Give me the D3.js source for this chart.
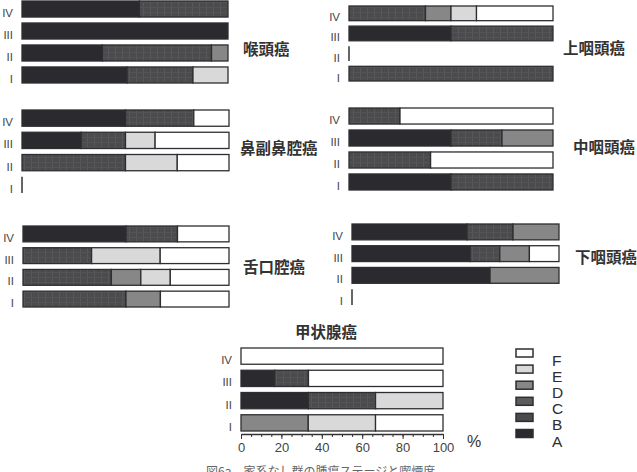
<!DOCTYPE html>
<html>
<head>
<meta charset="utf-8">
<script src="https://cdn.jsdelivr.net/npm/d3@7"></script>
<style>
  html, body { margin: 0; padding: 0; background: #fff; }
  svg { display: block; }
  .stage { font-family: "Liberation Sans Narrow", "Liberation Sans", sans-serif; font-size: 11.5px; fill: #444; }
  .title { font-family: "Noto Sans CJK JP", sans-serif; font-weight: 700; font-size: 15.5px; fill: #333; }
  .tick text { font-family: "Liberation Sans", sans-serif; font-size: 13px; fill: #444; }
</style>
</head>
<body>
<svg id="chart" width="637" height="472"></svg>
<script>
// categories and stages
const categories = ["A", "B", "C", "D", "E", "F"];
const stages = ["IV", "III", "II", "I"];
const catColors = ["#2a2a2f", "#4b4b4e", "#5c5c5f", "#878787", "#d9d9d9", "#ffffff"];

// percentages per stage (IV, III, II, I), order A..F
const larynx = [
    [57, 43, 0, 0, 0, 0],
    [100, 0, 0, 0, 0, 0],
    [39, 53, 0, 8, 0, 0],
    [51, 32, 0, 0, 17, 0]
];
const nasopharynx = [
    [0, 37.5, 0, 12.5, 12.5, 37.5],
    [50, 50, 0, 0, 0, 0],
    [0, 0, 0, 0, 0, 0],
    [0, 100, 0, 0, 0, 0]
];
const sinonasal = [
    [50, 33, 0, 0, 0, 17],
    [28.6, 21.4, 0, 0, 14.3, 35.7],
    [0, 50, 0, 0, 25, 25],
    [0, 0, 0, 0, 0, 0]
];
const oropharynx = [
    [0, 25, 0, 0, 0, 75],
    [50, 25, 0, 25, 0, 0],
    [0, 40, 0, 0, 0, 60],
    [50, 50, 0, 0, 0, 0]
];
const oralTongue = [
    [50, 25, 0, 0, 0, 25],
    [0, 33.3, 0, 0, 33.3, 33.4],
    [0, 42.9, 0, 14.3, 14.3, 28.5],
    [0, 50, 0, 16.7, 0, 33.3]
];
const hypopharynx = [
    [55.6, 22.2, 0, 22.2, 0, 0],
    [57.1, 14.3, 0, 14.3, 0, 14.3],
    [66.7, 0, 0, 33.3, 0, 0],
    [0, 0, 0, 0, 0, 0]
];
const thyroid = [
    [0, 0, 0, 0, 0, 100],
    [16.7, 16.7, 0, 0, 0, 66.6],
    [33.3, 33.3, 0, 0, 33.4, 0],
    [0, 0, 0, 33.3, 33.3, 33.4]
];
const axisTicks = [0, 20, 40, 60, 80, 100];

const panels = [
    { name: "喉頭癌", data: larynx, x: [22, 228], y: [1, 83], tx: 243, ty: 55 },
    { name: "上咽頭癌", data: nasopharynx, x: [349, 553], y: [6, 81], tx: 563, ty: 54 },
    { name: "鼻副鼻腔癌", data: sinonasal, x: [22, 229], y: [110, 193], tx: 240, ty: 154 },
    { name: "中咽頭癌", data: oropharynx, x: [349, 553], y: [108, 190], tx: 573, ty: 153 },
    { name: "舌口腔癌", data: oralTongue, x: [23, 229], y: [226, 307], tx: 243, ty: 273 },
    { name: "下咽頭癌", data: hypopharynx, x: [352, 559], y: [224, 305], tx: 575, ty: 263 },
    { name: "甲状腺癌", data: thyroid, x: [241, 443], y: [348, 431], tx: 326, ty: 338, axis: true, centered: true }
];

const svg = d3.select("#chart");
const color = d3.scaleOrdinal().domain(categories).range(catColors);

// faint vertical texture for the B fill
const defs = svg.append("defs");
const pat = defs.append("pattern").attr("id", "texB")
    .attr("patternUnits", "userSpaceOnUse").attr("width", 7).attr("height", 5);
pat.append("rect").attr("width", 7).attr("height", 5).attr("fill", color("B"));
pat.append("rect").attr("x", 3).attr("width", 1).attr("height", 5).attr("fill", "#58585b");
pat.append("rect").attr("y", 2).attr("width", 7).attr("height", 1).attr("fill", "#535356");

function fillFor(cat) {
    return cat === "B" ? "url(#texB)" : color(cat);
}

function drawPanel(p) {
    const g = svg.append("g");
    const x = d3.scaleLinear().domain([0, 100]).range(p.x);
    const y = d3.scaleBand().domain(stages).range(p.y).paddingInner(0.27);

    stages.forEach((st, i) => {
        const vals = p.data[i];
        const total = d3.sum(vals);
        const row = g.append("g");
        if (total === 0) {
            row.append("line")
                .attr("x1", x(0)).attr("x2", x(0))
                .attr("y1", y(st)).attr("y2", y(st) + y.bandwidth())
                .attr("stroke", "#333").attr("stroke-width", 1.5);
        } else {
            const stack = [];
            let acc = 0;
            vals.forEach((v, k) => {
                if (v > 0) stack.push({ cat: categories[k], x0: acc, x1: acc + v });
                acc += v;
            });
            row.selectAll("rect.seg").data(stack).join("rect")
                .attr("class", "seg")
                .attr("x", d => x(d.x0))
                .attr("y", y(st))
                .attr("width", d => x(d.x1) - x(d.x0))
                .attr("height", y.bandwidth())
                .attr("fill", d => fillFor(d.cat))
                .attr("stroke", "#2e2e32")
                .attr("stroke-width", 1.3);
        }
        g.append("text").attr("class", "stage")
            .attr("x", x(0) - 9)
            .attr("y", y(st) + y.bandwidth() / 2 + 8)
            .attr("text-anchor", "end")
            .text(st);
    });

    g.append("text").attr("class", "title")
        .attr("x", p.tx).attr("y", p.ty)
        .attr("text-anchor", p.centered ? "middle" : "start")
        .text(p.name);

    if (p.axis) {
        const ay = p.y[1] + 3;
        const minor = g.append("g").attr("transform", `translate(0,${ay})`)
            .call(d3.axisBottom(x).tickValues(d3.range(0, 101, 5)).tickSize(3).tickFormat(""));
        minor.select(".domain").remove();
        minor.selectAll(".tick line").attr("stroke", "#333");
        const major = g.append("g").attr("transform", `translate(0,${ay})`)
            .call(d3.axisBottom(x).tickValues(axisTicks).tickSize(5).tickSizeOuter(0).tickPadding(4));
        major.select(".domain").attr("stroke", "#333").attr("stroke-width", 1.3);
        major.selectAll(".tick line").attr("stroke", "#333");
        g.append("text").attr("x", 467).attr("y", 447)
            .style("font-family", "Liberation Sans, sans-serif").style("font-size", "16px")
            .attr("fill", "#333").text("%");
    }
}

panels.forEach(drawPanel);

// legend (F on top down to A); letters sit tightly stacked as in the source
const legendOrder = categories.slice().reverse();
const ly = d3.scalePoint().domain(legendOrder).range([353, 433.5]);
const leg = svg.append("g");
leg.selectAll("rect").data(legendOrder).join("rect")
    .attr("x", 516).attr("y", d => ly(d) - 4)
    .attr("width", 17).attr("height", 8)
    .attr("fill", d => color(d))
    .attr("stroke", "#2e2e32").attr("stroke-width", 1.5);
leg.selectAll("text").data(legendOrder).join("text")
    .attr("x", 552).attr("y", d => ly(d) + 13)
    .style("font-family", "Liberation Sans, sans-serif").style("font-size", "15.5px")
    .attr("fill", "#2e2e2e")
    .text(d => d);

// caption, cut by the bottom edge as in the source
svg.append("text").attr("x", 206).attr("y", 476)
    .style("font-family", "Noto Sans CJK JP, sans-serif").style("font-size", "12px")
    .attr("fill", "#666")
    .text("図6a　家系なし群の腫瘍ステージと喫煙度");
</script>
</body>
</html>
